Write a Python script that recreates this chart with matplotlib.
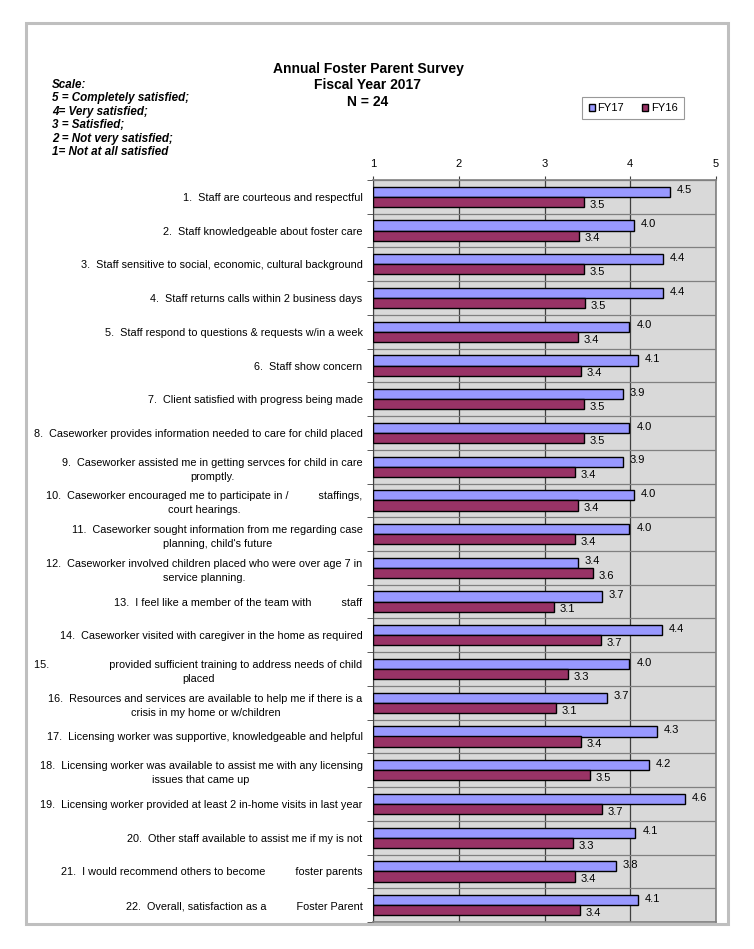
import numpy as np
import matplotlib
matplotlib.use("Agg")
import matplotlib.pyplot as plt
from matplotlib.patches import Patch, Rectangle

plt.rcParams['font.family'] = ['Liberation Sans', 'DejaVu Sans']

# survey questions (top to bottom)
questions = [
    "1.  Staff are courteous and respectful",
    "2.  Staff knowledgeable about foster care",
    "3.  Staff sensitive to social, economic, cultural background",
    "4.  Staff returns calls within 2 business days",
    "5.  Staff respond to questions & requests w/in a week",
    "6.  Staff show concern",
    "7.  Client satisfied with progress being made",
    "8.  Caseworker provides information needed to care for child placed",
    "9.  Caseworker assisted me in getting servces for child in care\npromptly.",
    "10.  Caseworker encouraged me to participate in /          staffings,\ncourt hearings.",
    "11.  Caseworker sought information from me regarding case\nplanning, child's future",
    "12.  Caseworker involved children placed who were over age 7 in\nservice planning.",
    "13.  I feel like a member of the team with          staff",
    "14.  Caseworker visited with caregiver in the home as required",
    "15.                    provided sufficient training to address needs of child\nplaced",
    "16.  Resources and services are available to help me if there is a\ncrisis in my home or w/children",
    "17.  Licensing worker was supportive, knowledgeable and helpful",
    "18.  Licensing worker was available to assist me with any licensing\nissues that came up",
    "19.  Licensing worker provided at least 2 in-home visits in last year",
    "20.  Other staff available to assist me if my is not",
    "21.  I would recommend others to become          foster parents",
    "22.  Overall, satisfaction as a          Foster Parent",
]

fy17 = [4.46, 4.04, 4.38, 4.38, 3.99, 4.09, 3.91, 3.99, 3.91, 4.04, 3.99,
        3.39, 3.67, 4.37, 3.99, 3.73, 4.31, 4.22, 4.64, 4.06, 3.83, 4.09]
fy16 = [3.46, 3.40, 3.46, 3.47, 3.39, 3.42, 3.46, 3.46, 3.36, 3.39, 3.36,
        3.57, 3.11, 3.66, 3.27, 3.13, 3.42, 3.53, 3.67, 3.33, 3.36, 3.41]

scale_text = ("Scale:\n5 = Completely satisfied;\n4= Very satisfied;\n"
              "3 = Satisfied;\n2 = Not very satisfied;\n1= Not at all satisfied")
title_text = "Annual Foster Parent Survey\nFiscal Year 2017\nN = 24"

W, H = 754, 949
fig = plt.figure(figsize=(W / 100, H / 100), dpi=100)

# outer chart frame
fig.patches.append(Rectangle((26 / W, 1 - 924 / H), (728 - 26) / W, (924 - 23) / H,
                             transform=fig.transFigure, fill=False,
                             edgecolor='#bfbfbf', linewidth=2.2))

ax = fig.add_axes([373 / W, 1 - 922 / H, (716 - 373) / W, (922 - 180) / H])
ax.set_facecolor('#d9d9d9')

y = np.arange(len(questions))
h = 0.3
ax.barh(y - h / 2, [v - 1 for v in fy17], height=h, left=1, color='#9999ff',
        edgecolor='black', linewidth=1.0, zorder=3)
ax.barh(y + h / 2, [v - 1 for v in fy16], height=h, left=1, color='#993366',
        edgecolor='black', linewidth=1.0, zorder=3)

for yi, a, b in zip(y, fy17, fy16):
    ax.annotate(f"{a:.1f}", (a, yi - h / 2), xytext=(5, 1), textcoords='offset points',
                va='center', ha='left', fontsize=8, zorder=4)
    ax.annotate(f"{b:.1f}", (b, yi + h / 2), xytext=(4, -2), textcoords='offset points',
                va='center', ha='left', fontsize=8, zorder=4)

ax.set_xlim(1, 5)
ax.set_ylim(len(questions) - 0.5, -0.5)
ax.set_xticks([1, 2, 3, 4, 5])
ax.xaxis.tick_top()
ax.tick_params(axis='x', which='major', direction='out', length=3, labelsize=8,
               pad=5, color='#404040')
ax.grid(axis='x', color='#404040', linewidth=0.9, zorder=1)

ax.set_yticks(y)
ax.set_yticklabels(questions, fontsize=7.8)
for lbl in ax.get_yticklabels():
    lbl.set_multialignment('center')
    lbl.set_linespacing(1.5)
ax.tick_params(axis='y', which='major', length=0, pad=7.5)
ax.set_yticks(np.arange(len(questions) + 1) - 0.5, minor=True)
ax.tick_params(axis='y', which='minor', direction='out', length=4, color='#404040')
ax.grid(axis='y', which='minor', color='#808080', linewidth=0.9, zorder=1)

for side in ['top', 'right', 'bottom']:
    ax.spines[side].set_color('#808080')
    ax.spines[side].set_linewidth(1.2)
ax.spines['left'].set_color('#404040')

fig.text(368 / W, 1 - 62 / H, title_text, ha='center', va='top', fontsize=10,
         fontweight='bold', linespacing=1.21)
fig.text(52 / W, 1 - 79 / H, scale_text, ha='left', va='top', fontsize=8.4,
         fontweight='bold', fontstyle='italic', linespacing=1.165)

handles = [Patch(facecolor='#9999ff', edgecolor='black', label='FY17'),
           Patch(facecolor='#993366', edgecolor='black', label='FY16')]
leg = fig.legend(handles=handles, ncol=2, loc='center',
                 bbox_to_anchor=(633 / W, 1 - 108 / H), fontsize=8, frameon=True,
                 fancybox=False, handlelength=0.6, handleheight=0.6, handletextpad=0.2,
                 columnspacing=1.6, borderpad=0.55, borderaxespad=0)
leg.get_frame().set_edgecolor('#808080')
leg.get_frame().set_linewidth(0.8)

fig.savefig('out.png', dpi=100, facecolor='white')
